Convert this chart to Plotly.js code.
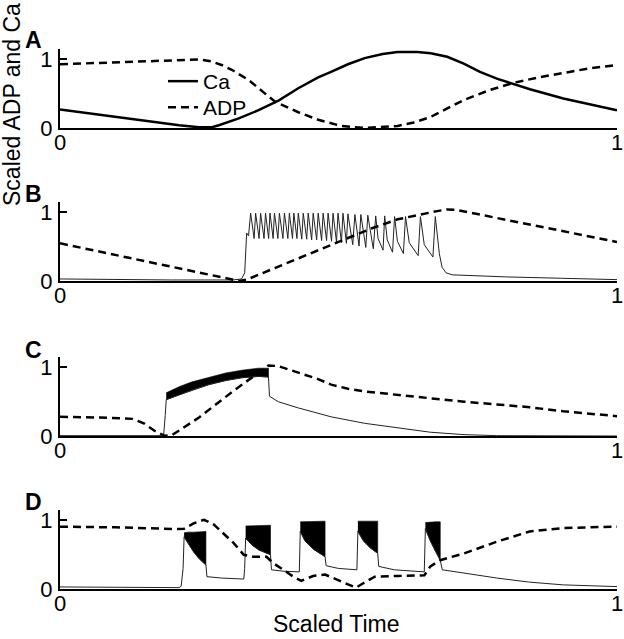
<!DOCTYPE html>
<html>
<head>
<meta charset="utf-8">
<script src="https://cdn.plot.ly/plotly-3.0.1.min.js"></script>
<style>html,body{margin:0;padding:0;background:#fff;}#chart{width:624px;height:639px;}</style>
</head>
<body>
<div id="chart"></div>
<script>
// ---------- Panel A ----------
var aCaT  = [0, 0.0713, 0.1604, 0.2139, 0.2496, 0.2727, 0.2852, 0.3209, 0.3565, 0.3922, 0.4278, 0.4635, 0.4866, 0.5169, 0.547, 0.5793, 0.6060, 0.6417, 0.6655, 0.6952, 0.7249, 0.7540, 0.7843, 0.8146, 0.8437, 0.9037, 0.9626, 1.0];
var aCaV  = [0.27, 0.19, 0.09, 0.04, 0.01, 0.01, 0.04, 0.14, 0.26, 0.40, 0.58, 0.74, 0.82, 0.93, 1.02, 1.08, 1.11, 1.11, 1.09, 1.04, 0.94, 0.82, 0.72, 0.64, 0.565, 0.43, 0.32, 0.26];
var aAdpT = [0, 0.0713, 0.1604, 0.2496, 0.2727, 0.2900, 0.3084, 0.3387, 0.3655, 0.3868, 0.4278, 0.4635, 0.5045, 0.547, 0.606, 0.6350, 0.665, 0.6952, 0.7255, 0.7700, 0.8146, 0.8600, 0.9037, 0.9500, 1.0];
var aAdpV = [0.93, 0.95, 0.98, 1.0, 0.97, 0.92, 0.85, 0.70, 0.52, 0.38, 0.23, 0.12, 0.03, 0.0, 0.03, 0.08, 0.16, 0.28, 0.41, 0.55, 0.66, 0.74, 0.80, 0.87, 0.92];

// ---------- Panel B ----------
var bCaT = [0, 0.1, 0.2, 0.31, 0.326, 0.3316, 0.3333, 0.3351, 0.3385,
  0.3422, 0.3485, 0.3512, 0.3574, 0.3601, 0.3663, 0.3690, 0.3746, 0.3770, 0.3826,
  0.3850, 0.3912, 0.3939, 0.4002, 0.4029, 0.4091, 0.4118, 0.4174, 0.4198, 0.4254,
  0.4278, 0.4340, 0.4367, 0.4429, 0.4456, 0.4518, 0.4545, 0.4608, 0.4635, 0.4697,
  0.4724, 0.4786, 0.4813, 0.4875, 0.4902, 0.4964, 0.4991, 0.5053, 0.5080, 0.5142,
  0.5169, 0.5256, 0.5294, 0.5369, 0.5401, 0.5490, 0.5526, 0.5625,
  0.5668, 0.5710, 0.5800, 0.5829, 0.5875, 0.5970, 0.6007, 0.6058, 0.6165,
  0.6203, 0.6270, 0.6430, 0.6471, 0.6540, 0.6695, 0.6738,
  0.6775, 0.6810, 0.6860, 0.6930, 0.7041, 0.80, 0.90, 1.0];
var bCaV = [0.03, 0.02, 0.015, 0.015, 0.03, 0.12, 0.45, 0.70, 0.66,
  0.99, 0.62, 0.99, 0.62, 0.99, 0.62, 0.99, 0.62, 0.99, 0.62,
  0.99, 0.62, 0.99, 0.62, 0.99, 0.62, 0.99, 0.62, 0.99, 0.62,
  0.99, 0.61, 0.99, 0.61, 0.99, 0.60, 0.99, 0.60, 0.99, 0.59,
  0.99, 0.59, 0.99, 0.58, 0.99, 0.57, 0.99, 0.56, 0.99, 0.55,
  0.98, 0.53, 0.97, 0.51, 0.97, 0.49, 0.96, 0.47,
  0.95, 0.62, 0.45, 0.95, 0.60, 0.42, 0.94, 0.58, 0.40,
  0.94, 0.56, 0.37, 0.94, 0.53, 0.35, 0.94,
  0.70, 0.40, 0.20, 0.12, 0.09, 0.06, 0.04, 0.02];
var bAdpT = [0, 0.322, 0.335, 0.4278, 0.5045, 0.5600, 0.6061, 0.6500, 0.6770, 0.6950, 0.7100, 1.0];
var bAdpV = [0.55, 0.0, 0.02, 0.33, 0.59, 0.77, 0.90, 0.98, 1.02, 1.045, 1.04, 0.57];

// ---------- Panel C ----------
var cCaT = [0, 0.186, 0.1889, 0.1907, 0.2139, 0.2371, 0.2674, 0.2977, 0.3262, 0.3565, 0.3743, 0.3761, 0.392, 0.4278, 0.4635, 0.4866, 0.547, 0.606, 0.665, 0.7255, 0.784, 1.0];
var cCaV = [0.005, 0.005, 0.30, 0.53, 0.60, 0.67, 0.75, 0.81, 0.85, 0.87, 0.86, 0.58, 0.50, 0.41, 0.33, 0.28, 0.185, 0.12, 0.055, 0.02, 0.005, 0.0];
var cBandT  = [0.1907, 0.2139, 0.2371, 0.2674, 0.2977, 0.3262, 0.3565, 0.3743];
var cBandLo = [0.53, 0.60, 0.67, 0.75, 0.81, 0.85, 0.87, 0.86];
var cBandHi = [0.63, 0.72, 0.79, 0.86, 0.92, 0.96, 0.99, 0.99];
var cAdpT = [0, 0.0713, 0.130, 0.1515, 0.169, 0.187, 0.2005, 0.2496, 0.3084, 0.3505, 0.3743, 0.392, 0.4278, 0.4635, 0.4866, 0.5169, 0.547, 0.606, 0.7255, 0.843, 0.9037, 1.0];
var cAdpV = [0.28, 0.27, 0.25, 0.18, 0.08, 0.005, 0.01, 0.27, 0.64, 0.89, 1.03, 1.02, 0.92, 0.83, 0.75, 0.69, 0.65, 0.60, 0.50, 0.42, 0.36, 0.29];

// ---------- Panel D ----------
var dCaT = [0, 0.1, 0.2139, 0.2175, 0.2210, 0.2228, 0.2300, 0.2400, 0.2500, 0.2620, 0.2638, 0.2900, 0.3300,
  0.3315, 0.3333, 0.3450, 0.3570, 0.3779, 0.3797, 0.4000, 0.4296,
  0.4314, 0.4400, 0.4550, 0.4759, 0.4777, 0.5000, 0.5330,
  0.5348, 0.5450, 0.5570, 0.5704, 0.5722, 0.6000, 0.6540,
  0.6560, 0.6650, 0.6740, 0.6827, 0.6863, 0.7255, 0.7843, 0.8431, 0.9037, 1.0];
var dCaV = [0.03, 0.025, 0.02, 0.04, 0.30, 0.76, 0.66, 0.54, 0.44, 0.35, 0.18, 0.16, 0.145,
  0.30, 0.74, 0.64, 0.57, 0.50, 0.28, 0.26, 0.25,
  0.84, 0.70, 0.58, 0.47, 0.34, 0.30, 0.28,
  0.84, 0.70, 0.60, 0.52, 0.33, 0.28, 0.25,
  0.88, 0.70, 0.55, 0.42, 0.28, 0.23, 0.16, 0.10, 0.06, 0.035];
var dB1T = [0.2228, 0.2300, 0.2400, 0.2500, 0.2620], dB1Lo = [0.76, 0.66, 0.54, 0.44, 0.35], dB1Hi = [0.82, 0.83, 0.83, 0.83, 0.84];
var dB2T = [0.3333, 0.3450, 0.3570, 0.3779],         dB2Lo = [0.74, 0.64, 0.57, 0.50],       dB2Hi = [0.92, 0.92, 0.92, 0.93];
var dB3T = [0.4314, 0.4400, 0.4550, 0.4759],         dB3Lo = [0.84, 0.70, 0.58, 0.47],       dB3Hi = [0.98, 0.98, 0.98, 0.99];
var dB4T = [0.5348, 0.5450, 0.5570, 0.5704],         dB4Lo = [0.84, 0.70, 0.60, 0.52],       dB4Hi = [0.99, 0.99, 0.99, 0.99];
var dB5T = [0.6560, 0.6650, 0.6740, 0.6827],         dB5Lo = [0.88, 0.70, 0.55, 0.42],       dB5Hi = [0.97, 0.98, 0.98, 0.98];
var dAdpT = [0, 0.1, 0.2050, 0.2228, 0.2406, 0.2585, 0.2763, 0.2941, 0.3119, 0.3298, 0.3476, 0.3708, 0.3832, 0.4011, 0.4189, 0.4332, 0.4545, 0.4759, 0.5045, 0.5312, 0.5437, 0.5651, 0.6061, 0.6542, 0.6649, 0.6827, 0.7255, 0.7843, 0.8431, 0.9037, 1.0];
var dAdpV = [0.91, 0.90, 0.876, 0.88, 0.96, 1.01, 0.94, 0.81, 0.67, 0.50, 0.47, 0.47, 0.375, 0.28, 0.18, 0.12, 0.19, 0.21, 0.11, 0.02, 0.08, 0.18, 0.19, 0.20, 0.33, 0.42, 0.52, 0.69, 0.84, 0.89, 0.91];

var tickVals = [0, 1];
var tickText = ['0', '1'];

// ---------- build ----------
var FONT = 'Liberation Sans, Arial, Helvetica, sans-serif';
var DASH = '8px,5px';
function band(T, Lo, Hi, xa, ya) {
  return {x: T.concat(T.slice().reverse()), y: Hi.concat(Lo.slice().reverse()),
    xaxis: xa, yaxis: ya, mode: 'lines', fill: 'toself', fillcolor: '#000',
    line: {color: '#000', width: 0.6}, showlegend: false, hoverinfo: 'skip'};
}
var traces = [
  {x: aCaT, y: aCaV, xaxis: 'x', yaxis: 'y', mode: 'lines', name: 'Ca', legend: 'legend', line: {color: '#000', width: 2.5}},
  {x: aAdpT, y: aAdpV, xaxis: 'x', yaxis: 'y', mode: 'lines', name: 'ADP', legend: 'legend2', line: {color: '#000', width: 2.5, dash: DASH}},
  {x: bCaT, y: bCaV, xaxis: 'x2', yaxis: 'y2', mode: 'lines', showlegend: false, line: {color: '#222', width: 1}},
  {x: bAdpT, y: bAdpV, xaxis: 'x2', yaxis: 'y2', mode: 'lines', showlegend: false, line: {color: '#000', width: 2.5, dash: DASH}},
  band(cBandT, cBandLo, cBandHi, 'x3', 'y3'),
  {x: cCaT, y: cCaV, xaxis: 'x3', yaxis: 'y3', mode: 'lines', showlegend: false, line: {color: '#222', width: 1}},
  {x: cAdpT, y: cAdpV, xaxis: 'x3', yaxis: 'y3', mode: 'lines', showlegend: false, line: {color: '#000', width: 2.5, dash: DASH}},
  band(dB1T, dB1Lo, dB1Hi, 'x4', 'y4'),
  band(dB2T, dB2Lo, dB2Hi, 'x4', 'y4'),
  band(dB3T, dB3Lo, dB3Hi, 'x4', 'y4'),
  band(dB4T, dB4Lo, dB4Hi, 'x4', 'y4'),
  band(dB5T, dB5Lo, dB5Hi, 'x4', 'y4'),
  {x: dCaT, y: dCaV, xaxis: 'x4', yaxis: 'y4', mode: 'lines', showlegend: false, line: {color: '#222', width: 1}},
  {x: dAdpT, y: dAdpV, xaxis: 'x4', yaxis: 'y4', mode: 'lines', showlegend: false, line: {color: '#000', width: 2.5, dash: DASH}}
];

function xax(anchor) {
  return {domain: [60/624, 617/624], range: [0, 1], anchor: anchor, showgrid: false, zeroline: false,
    showline: true, linewidth: 2, linecolor: '#000', ticks: 'inside', ticklen: 7, tickwidth: 2, tickcolor: '#000',
    tickvals: tickVals, ticktext: tickText, tickfont: {size: 22, color: '#000'},
    ticklabelstandoff: -6, ticklabeloverflow: 'allow'};
}
function yax(anchor, bottomPx) {
  var topPx = bottomPx - 78.8;
  return {domain: [1 - bottomPx/639, 1 - topPx/639], range: [0, 1.15], anchor: anchor, showgrid: false, zeroline: false,
    showline: true, linewidth: 2, linecolor: '#000', ticks: 'inside', ticklen: 7, tickwidth: 2, tickcolor: '#000',
    tickvals: tickVals, ticktext: tickText, tickfont: {size: 22, color: '#000'},
    ticklabelstandoff: 1, ticklabeloverflow: 'allow'};
}
function panelLabel(txt, cy) {
  return {text: '<b>' + txt + '</b>', xref: 'paper', yref: 'paper', x: 44/624, y: 1 - cy/639,
    xanchor: 'right', yanchor: 'middle', showarrow: false, font: {size: 23, color: '#000'}};
}
function legendBox(topPx) {
  return {x: 163/624, xanchor: 'left', y: 1 - topPx/639, yanchor: 'top', bgcolor: 'rgba(0,0,0,0)',
    font: {size: 21, color: '#000'}};
}
var layout = {
  width: 624, height: 639, margin: {l: 0, r: 0, t: 0, b: 0},
  paper_bgcolor: '#fff', plot_bgcolor: '#fff',
  font: {family: FONT, color: '#000', size: 22},
  xaxis: xax('y'), yaxis: yax('x', 128),
  xaxis2: xax('y2'), yaxis2: yax('x2', 281),
  xaxis3: xax('y3'), yaxis3: yax('x3', 436),
  xaxis4: xax('y4'), yaxis4: yax('x4', 589),
  showlegend: true,
  legend: legendBox(61),
  legend2: legendBox(87),
  annotations: [
    {text: 'Scaled ADP and Ca', xref: 'paper', yref: 'paper', x: 12/624, y: 1 - 105/639, textangle: -90,
      xanchor: 'center', yanchor: 'middle', showarrow: false, borderpad: 0, font: {size: 23, color: '#000'}},
    {text: 'Scaled Time', xref: 'paper', yref: 'paper', x: 336/624, y: 1 - 624/639,
      xanchor: 'center', yanchor: 'middle', showarrow: false, borderpad: 0, font: {size: 23, color: '#000'}},
    panelLabel('A', 40), panelLabel('B', 194), panelLabel('C', 349.5), panelLabel('D', 501.5)
  ]
};
Plotly.newPlot('chart', traces, layout, {staticPlot: true, displayModeBar: false});
</script>
</body>
</html>
